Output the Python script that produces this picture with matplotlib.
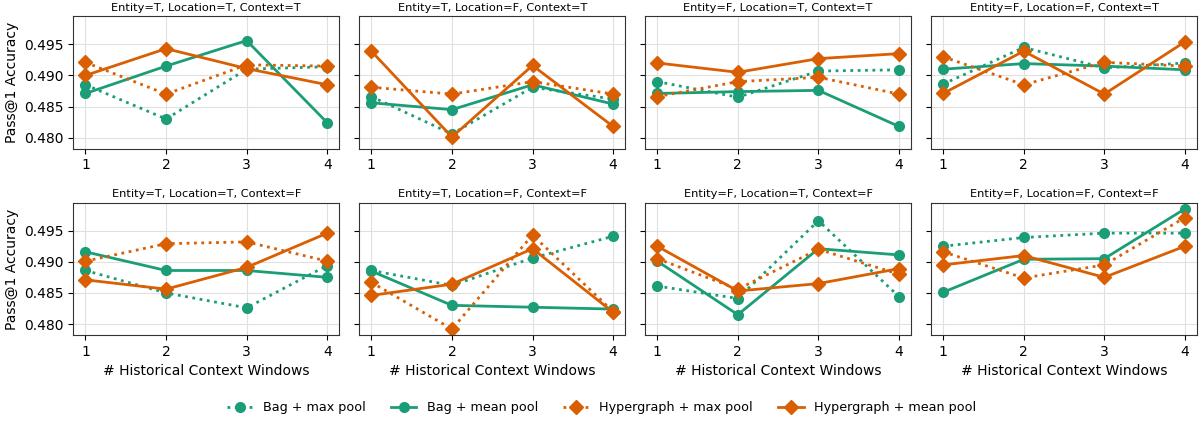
import matplotlib
matplotlib.use("Agg")
import matplotlib.pyplot as plt

windows = [1, 2, 3, 4]

panel_titles = [
    "Entity=T, Location=T, Context=T",
    "Entity=T, Location=F, Context=T",
    "Entity=F, Location=T, Context=T",
    "Entity=F, Location=F, Context=T",
    "Entity=T, Location=T, Context=F",
    "Entity=T, Location=F, Context=F",
    "Entity=F, Location=T, Context=F",
    "Entity=F, Location=F, Context=F",
]

# one row per panel, values for windows 1..4
bag_max = [
    [0.4885, 0.4830, 0.4910, 0.4914],
    [0.4866, 0.4806, 0.4881, 0.4862],
    [0.4890, 0.4865, 0.4907, 0.4909],
    [0.4886, 0.4945, 0.4912, 0.4920],
    [0.4886, 0.4850, 0.4826, 0.4894],
    [0.4886, 0.4862, 0.4906, 0.4941],
    [0.4861, 0.4841, 0.4966, 0.4844],
    [0.4925, 0.4939, 0.4946, 0.4946],
]
bag_mean = [
    [0.4871, 0.4915, 0.4956, 0.4824],
    [0.4856, 0.4845, 0.4885, 0.4854],
    [0.4871, 0.4874, 0.4876, 0.4818],
    [0.4910, 0.4919, 0.4915, 0.4909],
    [0.4916, 0.4886, 0.4886, 0.4875],
    [0.4885, 0.4830, 0.4827, 0.4824],
    [0.4901, 0.4815, 0.4921, 0.4911],
    [0.4851, 0.4904, 0.4905, 0.4985],
]
hyper_max = [
    [0.4921, 0.4870, 0.4917, 0.4915],
    [0.4881, 0.4870, 0.4890, 0.4870],
    [0.4866, 0.4890, 0.4897, 0.4870],
    [0.4930, 0.4885, 0.4921, 0.4915],
    [0.4901, 0.4929, 0.4932, 0.4901],
    [0.4867, 0.4792, 0.4943, 0.4820],
    [0.4905, 0.4856, 0.4920, 0.4880],
    [0.4916, 0.4874, 0.4895, 0.4971],
]
hyper_mean = [
    [0.4900, 0.4943, 0.4911, 0.4885],
    [0.4939, 0.4801, 0.4916, 0.4818],
    [0.4920, 0.4905, 0.4927, 0.4935],
    [0.4871, 0.4939, 0.4870, 0.4954],
    [0.4871, 0.4856, 0.4891, 0.4946],
    [0.4846, 0.4864, 0.4921, 0.4819],
    [0.4925, 0.4853, 0.4865, 0.4889],
    [0.4895, 0.4910, 0.4875, 0.4925],
]

green = "#1b9e77"
orange = "#d95f02"

series = [
    ("Bag + max pool", bag_max, green, "o", ":"),
    ("Bag + mean pool", bag_mean, green, "o", "-"),
    ("Hypergraph + max pool", hyper_max, orange, "D", ":"),
    ("Hypergraph + mean pool", hyper_mean, orange, "D", "-"),
]

fig, axes = plt.subplots(2, 4, figsize=(12.03, 4.23), dpi=100, sharey=True)
fig.subplots_adjust(left=0.061, right=0.995, top=0.961, bottom=0.208,
                    wspace=0.075, hspace=0.41)

for i, ax in enumerate(axes.flat):
    for label, data, color, marker, ls in series:
        ax.plot(windows, data[i], color=color, marker=marker, linestyle=ls,
                linewidth=2, markersize=7, label=label)
    ax.set_title(panel_titles[i], fontsize=8.2, pad=4)
    ax.set_xticks(windows)
    ax.grid(True, color="#e0e0e0", linewidth=0.8)
    ax.set_axisbelow(True)
    ax.tick_params(labelsize=10)
    for s in ax.spines.values():
        s.set_color("#333333")
    if i % 4 == 0:
        ax.set_ylabel("Pass@1 Accuracy", fontsize=10)
    if i >= 4:
        ax.set_xlabel("# Historical Context Windows", fontsize=10)

axes[0, 0].set_yticks([0.480, 0.485, 0.490, 0.495])
axes[0, 0].yaxis.set_major_formatter(matplotlib.ticker.FormatStrFormatter("%.3f"))

handles, labels = axes[0, 0].get_legend_handles_labels()
fig.legend(handles, labels, loc="lower center", ncol=4, frameon=False,
           fontsize=9.2, bbox_to_anchor=(0.5, -0.006), columnspacing=2.0)

fig.savefig("out.png", dpi=100)
